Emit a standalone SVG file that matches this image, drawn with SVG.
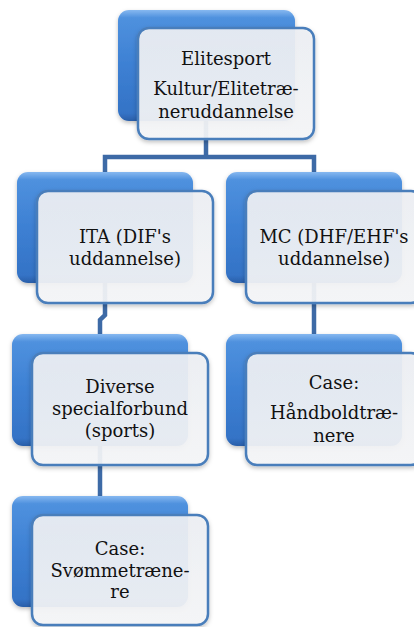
<svg xmlns="http://www.w3.org/2000/svg" width="414" height="627" viewBox="0 0 414 627">
<defs>
<linearGradient id="blue" x1="0" y1="0" x2="0" y2="1">
<stop offset="0" stop-color="#86b8f0"/>
<stop offset="0.07" stop-color="#4f91de"/>
<stop offset="0.5" stop-color="#3d80d3"/>
<stop offset="0.93" stop-color="#3473c6"/>
<stop offset="1" stop-color="#2a5ea8"/>
</linearGradient>
<linearGradient id="front" x1="0" y1="0" x2="0" y2="1">
<stop offset="0" stop-color="#eef0f4"/>
<stop offset="1" stop-color="#f5f6f8"/>
</linearGradient>
<filter id="sh" x="-10%" y="-10%" width="120%" height="130%">
<feDropShadow dx="0" dy="2" stdDeviation="2" flood-color="#000" flood-opacity="0.25"/>
</filter>
</defs>
<style>
.back{fill:url(#blue);filter:url(#sh)}
.front{fill:url(#front);fill-opacity:0.92;stroke:#4a7ebb;stroke-width:2.5;filter:url(#sh)}
.conn{fill:none;stroke:#3d6aa6;stroke-width:4.5}
text{font-family:"DejaVu Serif","Liberation Serif",serif;font-size:18px;fill:#111;text-anchor:middle}
</style>
<rect width="414" height="627" fill="#fff"/>
<g id="connectors">
<path class="conn" d="M206,118 V157"/>
<path class="conn" d="M105,174 V157 H314 V174"/>
<path class="conn" d="M105,280 V315 L100,320 V336"/>
<path class="conn" d="M314,280 V336"/>
<path class="conn" d="M100,444 V498"/>
</g>
<g id="n-elitesport">
<rect class="back" x="118" y="10" width="177" height="111" rx="11"/>
<rect class="front" x="138" y="28" width="176" height="111" rx="11"/>
<text x="226" y="65">Elitesport</text>
<text x="226" y="95">Kultur/Elitetræ-</text>
<text x="226" y="118">neruddannelse</text>
</g>
<g id="n-ita">
<rect class="back" x="17" y="172" width="176" height="111" rx="11"/>
<rect class="front" x="37" y="191" width="176" height="112" rx="11"/>
<text x="125" y="243">ITA (DIF's</text>
<text x="125" y="265">uddannelse)</text>
</g>
<g id="n-mc">
<rect class="back" x="226" y="172" width="176" height="111" rx="11"/>
<rect class="front" x="246" y="191" width="176" height="112" rx="11"/>
<text x="334" y="243">MC (DHF/EHF's</text>
<text x="334" y="265">uddannelse)</text>
</g>
<g id="n-diverse">
<rect class="back" x="12" y="334" width="176" height="112" rx="11"/>
<rect class="front" x="32" y="353" width="176" height="112" rx="11"/>
<text x="120" y="393">Diverse</text>
<text x="120" y="415">specialforbund</text>
<text x="120" y="437">(sports)</text>
</g>
<g id="n-haandbold">
<rect class="back" x="226" y="334" width="176" height="112" rx="11"/>
<rect class="front" x="246" y="353" width="176" height="112" rx="11"/>
<text x="334" y="389">Case:</text>
<text x="334" y="419">Håndboldtræ-</text>
<text x="334" y="442">nere</text>
</g>
<g id="n-svoemme">
<rect class="back" x="12" y="496" width="176" height="111" rx="11"/>
<rect class="front" x="32" y="515" width="176" height="110" rx="11"/>
<text x="120" y="555">Case:</text>
<text x="120" y="577">Svømmetræne-</text>
<text x="120" y="598">re</text>
</g>
</svg>
